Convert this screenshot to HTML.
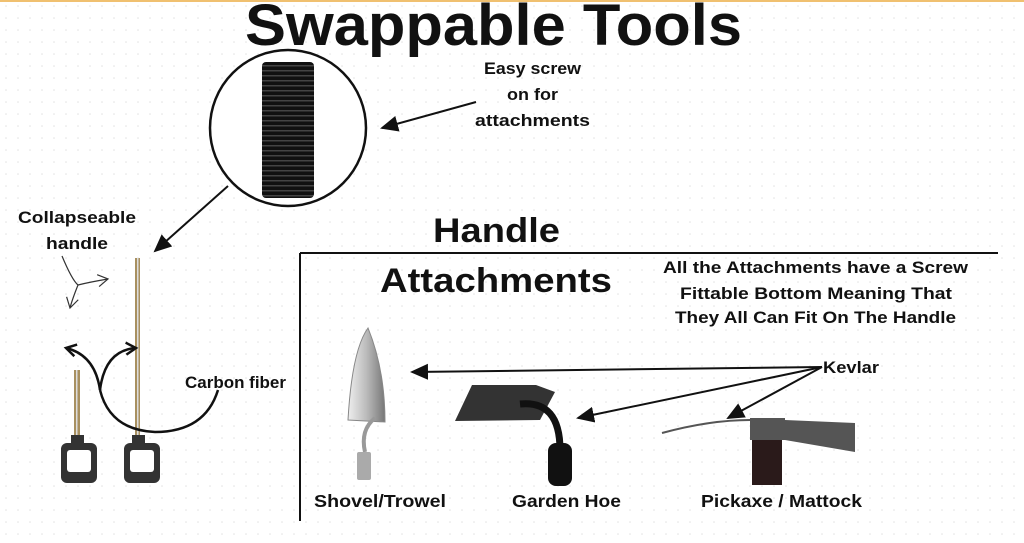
<!DOCTYPE html>
<html><head><meta charset="utf-8"><style>
html,body{margin:0;padding:0;background:#fff}
svg{display:block}
text{font-family:"Liberation Sans",sans-serif;font-weight:bold;fill:#111}
</style></head><body>
<svg width="1024" height="543" viewBox="0 0 1024 543" xmlns="http://www.w3.org/2000/svg">
<defs>
<pattern id="dots" width="12" height="12" patternUnits="userSpaceOnUse"><circle cx="6" cy="6" r="0.8" fill="#e2e2e2"/></pattern>
<pattern id="ridge" width="6" height="5" patternUnits="userSpaceOnUse"><rect width="6" height="5" fill="#111"/><rect y="0" width="6" height="1.5" fill="#444"/></pattern>
<linearGradient id="shov" x1="0" x2="1"><stop offset="0" stop-color="#eee"/><stop offset="0.5" stop-color="#bbb"/><stop offset="1" stop-color="#777"/></linearGradient>
<marker id="ah" markerWidth="10" markerHeight="10" refX="8" refY="5" orient="auto"><path d="M0,1 L9,5 L0,9 z" fill="#111"/></marker>
<marker id="oa" markerUnits="userSpaceOnUse" markerWidth="16" markerHeight="16" refX="12" refY="8" orient="auto"><path d="M2,2 L12,8 L2,14" fill="none" stroke="#111" stroke-width="2.5"/></marker>
<marker id="oa2" markerUnits="userSpaceOnUse" markerWidth="16" markerHeight="16" refX="12" refY="8" orient="auto"><path d="M2,2 L12,8 L2,14" fill="none" stroke="#333" stroke-width="1.2"/></marker>
</defs>
<rect width="1024" height="543" fill="#fff"/>
<rect width="1024" height="543" fill="url(#dots)"/>
<rect x="0" y="0" width="1024" height="2" fill="#f0c070"/>
<text x="245" y="45" font-size="58" textLength="497" lengthAdjust="spacingAndGlyphs">Swappable Tools</text>

<circle cx="288" cy="128" r="78" fill="#fff" stroke="#111" stroke-width="2.5"/>
<rect x="262" y="62" width="52" height="136" rx="4" fill="url(#ridge)"/>
<text x="484" y="74" font-size="16.5" textLength="97" lengthAdjust="spacingAndGlyphs">Easy screw</text>
<text x="507" y="100" font-size="16.5" textLength="51" lengthAdjust="spacingAndGlyphs">on for</text>
<text x="475" y="126" font-size="16.5" textLength="115" lengthAdjust="spacingAndGlyphs">attachments</text>
<line x1="476" y1="102" x2="382" y2="128" stroke="#111" stroke-width="2" marker-end="url(#ah)"/>
<line x1="228" y1="186" x2="155" y2="251" stroke="#111" stroke-width="2" marker-end="url(#ah)"/>

<text x="18" y="223" font-size="16.5" textLength="118" lengthAdjust="spacingAndGlyphs">Collapseable</text>
<text x="46" y="249" font-size="16.5" textLength="62" lengthAdjust="spacingAndGlyphs">handle</text>
<path d="M62,256 Q72,280 78,285 Q72,300 70,308" fill="none" stroke="#333" stroke-width="1.2" marker-end="url(#oa2)"/>
<path d="M78,285 Q90,282 108,279" fill="none" stroke="#333" stroke-width="1.2" marker-end="url(#oa2)"/>

<rect x="135" y="258" width="5" height="180" fill="#a89060"/>
<rect x="137" y="258" width="1.5" height="180" fill="#ddd"/>
<rect x="74" y="370" width="6" height="68" fill="#a89060"/>
<rect x="76" y="370" width="1.5" height="68" fill="#ddd"/>
<rect x="71" y="435" width="13" height="10" fill="#333"/>
<rect x="61" y="443" width="36" height="40" rx="6" fill="#333"/>
<rect x="67" y="450" width="24" height="22" rx="3" fill="#fff"/>
<rect x="132" y="435" width="13" height="10" fill="#333"/>
<rect x="124" y="443" width="36" height="40" rx="6" fill="#333"/>
<rect x="130" y="450" width="24" height="22" rx="3" fill="#fff"/>

<path d="M100,390 Q95,355 66,348" fill="none" stroke="#111" stroke-width="2.5" marker-end="url(#oa)"/>
<path d="M100,390 Q105,350 136,348" fill="none" stroke="#111" stroke-width="2.5" marker-end="url(#oa)"/>
<path d="M100,390 Q110,430 155,432 Q205,432 218,390" fill="none" stroke="#111" stroke-width="2.5"/>
<text x="185" y="388" font-size="16.5" textLength="101" lengthAdjust="spacingAndGlyphs">Carbon fiber</text>

<line x1="300" y1="253" x2="998" y2="253" stroke="#111" stroke-width="2"/>
<line x1="300" y1="253" x2="300" y2="521" stroke="#111" stroke-width="2"/>
<text x="433" y="242" font-size="34" textLength="127" lengthAdjust="spacingAndGlyphs">Handle</text>
<text x="380" y="292" font-size="34" textLength="232" lengthAdjust="spacingAndGlyphs">Attachments</text>
<text x="663" y="273" font-size="16.5" textLength="305" lengthAdjust="spacingAndGlyphs">All the Attachments have a Screw</text>
<text x="680" y="299" font-size="16.5" textLength="272" lengthAdjust="spacingAndGlyphs">Fittable Bottom Meaning That</text>
<text x="675" y="323" font-size="16.5" textLength="281" lengthAdjust="spacingAndGlyphs">They All Can Fit On The Handle</text>

<path d="M368,328 Q352,350 348,420 L385,422 Q385,370 368,328 z" fill="url(#shov)" stroke="#888" stroke-width="1"/>
<path d="M375,418 Q360,430 365,452" fill="none" stroke="#999" stroke-width="4"/>
<rect x="357" y="452" width="14" height="28" rx="2" fill="#aaa"/>
<path d="M472,385 L536,385 L555,392 L540,420 L455,421 z" fill="#333"/>
<path d="M520,404 Q560,400 560,450" fill="none" stroke="#111" stroke-width="7"/>
<rect x="548" y="443" width="24" height="43" rx="8" fill="#111"/>
<path d="M662,433 Q710,420 750,420" fill="none" stroke="#555" stroke-width="2"/>
<rect x="750" y="418" width="35" height="22" fill="#555"/>
<path d="M785,420 L855,423 L855,452 L785,440 z" fill="#555"/>
<rect x="752" y="440" width="30" height="45" fill="#2a1a1a"/>

<text x="823" y="373" font-size="16.5" textLength="56" lengthAdjust="spacingAndGlyphs">Kevlar</text>
<line x1="822" y1="367" x2="412" y2="372" stroke="#111" stroke-width="2" marker-end="url(#ah)"/>
<line x1="822" y1="367" x2="578" y2="418" stroke="#111" stroke-width="2" marker-end="url(#ah)"/>
<line x1="822" y1="367" x2="728" y2="418" stroke="#111" stroke-width="2" marker-end="url(#ah)"/>

<text x="314" y="507" font-size="17.5" textLength="132" lengthAdjust="spacingAndGlyphs">Shovel/Trowel</text>
<text x="512" y="507" font-size="17.5" textLength="109" lengthAdjust="spacingAndGlyphs">Garden Hoe</text>
<text x="701" y="507" font-size="17.5" textLength="161" lengthAdjust="spacingAndGlyphs">Pickaxe / Mattock</text>
</svg>
</body></html>
